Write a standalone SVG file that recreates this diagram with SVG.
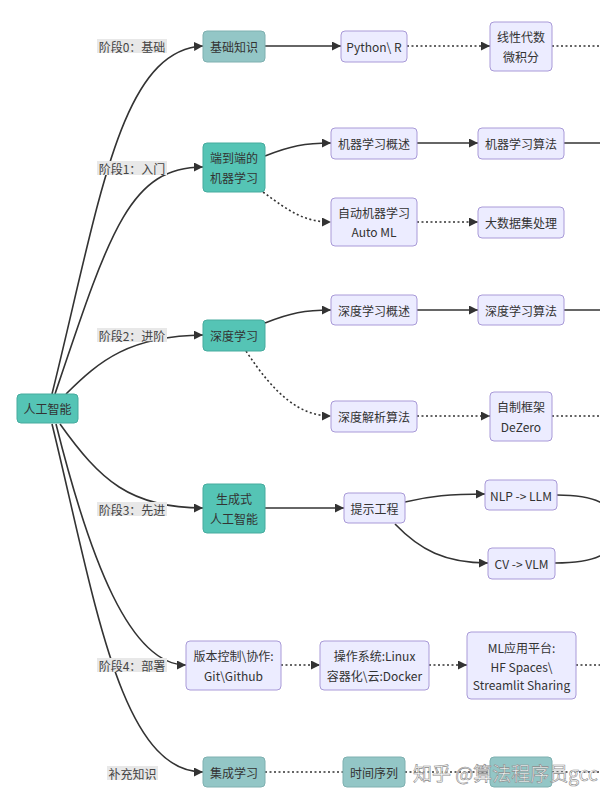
<svg xmlns="http://www.w3.org/2000/svg" width="600" height="802" viewBox="0 0 600 802">
<style>
text{font-family:"Noto Sans CJK SC","Noto Sans",sans-serif;font-size:12px;fill:#333;text-anchor:middle;dominant-baseline:central}
.teal{fill:#55c4b5;stroke:#46ab9e;stroke-width:1}
.gteal{fill:#93c6c6;stroke:#7fb0b0;stroke-width:1}
.lav{fill:#ececff;stroke:#a99ad8;stroke-width:1}
.e{fill:none;stroke:#333;stroke-width:1.6}
.d{fill:none;stroke:#333;stroke-width:1.6;stroke-dasharray:2 2.5}
.lblbg{fill:#e8e8e8}
.lbl{fill:#444}
.wm{font-size:19px;fill:#fff;fill-opacity:0.85;stroke:#8a8a8a;stroke-width:0.6;text-anchor:start}
</style>
<defs>
<marker id="arr" viewBox="0 0 10 10" refX="10" refY="5" markerWidth="9" markerHeight="9" markerUnits="userSpaceOnUse" orient="auto">
<path d="M0,0 L10,5 L0,10 z" fill="#333"/>
</marker>
</defs>
<rect width="600" height="802" fill="#fff"/>
<g id="connectors">
<path class="e" d="M52 394 C100 200,120 50,203 46" marker-end="url(#arr)"/>
<path class="e" d="M55 394 C110 230,130 167,203 167" marker-end="url(#arr)"/>
<path class="e" d="M66 394 C100 360,130 336,203 335" marker-end="url(#arr)"/>
<path class="e" d="M60 424 C100 480,130 508,203 508" marker-end="url(#arr)"/>
<path class="e" d="M56 424 C90 560,130 665,186 665" marker-end="url(#arr)"/>
<path class="e" d="M52 424 C95 600,120 772,203 772" marker-end="url(#arr)"/>
<path class="e" d="M265 46 L341 46" marker-end="url(#arr)"/>
<path class="d" d="M407 46 L490 46" marker-end="url(#arr)"/>
<path class="d" d="M552 46 L600 46"/>
<path class="e" d="M265 156 C290 146,305 143,331 143" marker-end="url(#arr)"/>
<path class="e" d="M417 143 L478 143" marker-end="url(#arr)"/>
<path class="e" d="M564 143 L600 143"/>
<path class="d" d="M263 192 C290 212,305 222,331 222" marker-end="url(#arr)"/>
<path class="d" d="M417 222 L478 222" marker-end="url(#arr)"/>
<path class="e" d="M265 323 C290 313,305 310,331 310" marker-end="url(#arr)"/>
<path class="e" d="M417 310 L478 310" marker-end="url(#arr)"/>
<path class="e" d="M564 310 L600 310"/>
<path class="d" d="M246 351 C275 395,300 416,331 416" marker-end="url(#arr)"/>
<path class="d" d="M417 416 L490 416" marker-end="url(#arr)"/>
<path class="d" d="M552 416 L600 416"/>
<path class="e" d="M265 508 L344 508" marker-end="url(#arr)"/>
<path class="e" d="M405 502 C430 496,450 494,485 494" marker-end="url(#arr)"/>
<path class="e" d="M395 524 C420 550,445 563,488 563" marker-end="url(#arr)"/>
<path class="e" d="M557 495 C580 495,595 498,605 505"/>
<path class="e" d="M555 563 C580 563,595 560,605 553"/>
<path class="d" d="M281 665 L320 665" marker-end="url(#arr)"/>
<path class="d" d="M429 665 L467 665" marker-end="url(#arr)"/>
<path class="d" d="M576 665 L600 665"/>
<path class="d" d="M265 772 L343 772"/>
<path class="d" d="M405 772 L490 772"/>
<path class="d" d="M552 772 L600 772"/>
</g>
<g id="edge-labels">
<rect class="lblbg" x="97" y="39" width="70" height="14"/><text class="lbl" x="132" y="46">阶段0：基础</text>
<rect class="lblbg" x="97" y="161" width="70" height="14"/><text class="lbl" x="132" y="168">阶段1：入门</text>
<rect class="lblbg" x="97" y="328" width="70" height="14"/><text class="lbl" x="132" y="335">阶段2：进阶</text>
<rect class="lblbg" x="97" y="502" width="70" height="14"/><text class="lbl" x="132" y="509">阶段3：先进</text>
<rect class="lblbg" x="97" y="658" width="70" height="14"/><text class="lbl" x="132" y="665">阶段4：部署</text>
<rect class="lblbg" x="107" y="766" width="51" height="14"/><text class="lbl" x="132.5" y="773">补充知识</text>
</g>
<g id="n-ai"><rect class="teal" x="17" y="394" width="61" height="29" rx="4"/><text x="47.5" y="408.5">人工智能</text></g>
<g id="n-basic"><rect class="gteal" x="203" y="31" width="62" height="31" rx="4"/><text x="234" y="46.5">基础知识</text></g>
<g id="n-e2e"><rect class="teal" x="203" y="143" width="62" height="49" rx="4"/><text x="234" y="157.5">端到端的</text><text x="234" y="177">机器学习</text></g>
<g id="n-dl"><rect class="teal" x="203" y="320" width="62" height="31" rx="4"/><text x="234" y="335.5">深度学习</text></g>
<g id="n-gen"><rect class="teal" x="203" y="484" width="62" height="49" rx="4"/><text x="234" y="498.5">生成式</text><text x="234" y="518">人工智能</text></g>
<g id="n-git"><rect class="lav" x="186" y="641" width="95" height="49" rx="4"/><text x="233.5" y="655.5">版本控制\协作:</text><text x="233.5" y="675">Git\Github</text></g>
<g id="n-ens"><rect class="gteal" x="203" y="757" width="62" height="30" rx="4"/><text x="234" y="772">集成学习</text></g>
<g id="n-py"><rect class="lav" x="341" y="31" width="66" height="31" rx="4"/><text x="374" y="46.5">Python\ R</text></g>
<g id="n-math"><rect class="lav" x="490" y="22" width="62" height="49" rx="4"/><text x="521" y="36.5">线性代数</text><text x="521" y="56">微积分</text></g>
<g id="n-mlo"><rect class="lav" x="331" y="128" width="86" height="31" rx="4"/><text x="374" y="143.5">机器学习概述</text></g>
<g id="n-mla"><rect class="lav" x="478" y="128" width="86" height="31" rx="4"/><text x="521" y="143.5">机器学习算法</text></g>
<g id="n-automl"><rect class="lav" x="331" y="198" width="86" height="48" rx="4"/><text x="374" y="212.5">自动机器学习</text><text x="374" y="231.5">Auto ML</text></g>
<g id="n-big"><rect class="lav" x="478" y="207" width="86" height="31" rx="4"/><text x="521" y="222.5">大数据集处理</text></g>
<g id="n-dlo"><rect class="lav" x="331" y="295" width="86" height="30" rx="4"/><text x="374" y="310">深度学习概述</text></g>
<g id="n-dla"><rect class="lav" x="478" y="295" width="86" height="30" rx="4"/><text x="521" y="310">深度学习算法</text></g>
<g id="n-dpa"><rect class="lav" x="331" y="401" width="86" height="31" rx="4"/><text x="374" y="416.5">深度解析算法</text></g>
<g id="n-dezero"><rect class="lav" x="490" y="392" width="62" height="49" rx="4"/><text x="521" y="406.5">自制框架</text><text x="521" y="426">DeZero</text></g>
<g id="n-prompt"><rect class="lav" x="344" y="493" width="61" height="30" rx="4"/><text x="374.5" y="508">提示工程</text></g>
<g id="n-llm"><rect class="lav" x="485" y="480" width="72" height="30" rx="4"/><text x="521" y="495">NLP -&gt; LLM</text></g>
<g id="n-vlm"><rect class="lav" x="488" y="548" width="67" height="31" rx="4"/><text x="521.5" y="563.5">CV -&gt; VLM</text></g>
<g id="n-os"><rect class="lav" x="320" y="641" width="109" height="49" rx="4"/><text x="374.5" y="655.5">操作系统:Linux</text><text x="374.5" y="675">容器化\云:Docker</text></g>
<g id="n-mlapp"><rect class="lav" x="467" y="632" width="109" height="67" rx="4"/><text x="521.5" y="647">ML应用平台:</text><text x="521.5" y="666">HF Spaces\</text><text x="521.5" y="684.5">Streamlit Sharing</text></g>
<g id="n-ts"><rect class="gteal" x="343" y="757" width="62" height="30" rx="4"/><text x="374" y="772">时间序列</text></g>
<g id="n-hidden"><rect class="gteal" x="490" y="757" width="62" height="30" rx="4"/></g>
<text class="wm" x="413" y="772">知乎 @算法程序员gcc</text>
</svg>
